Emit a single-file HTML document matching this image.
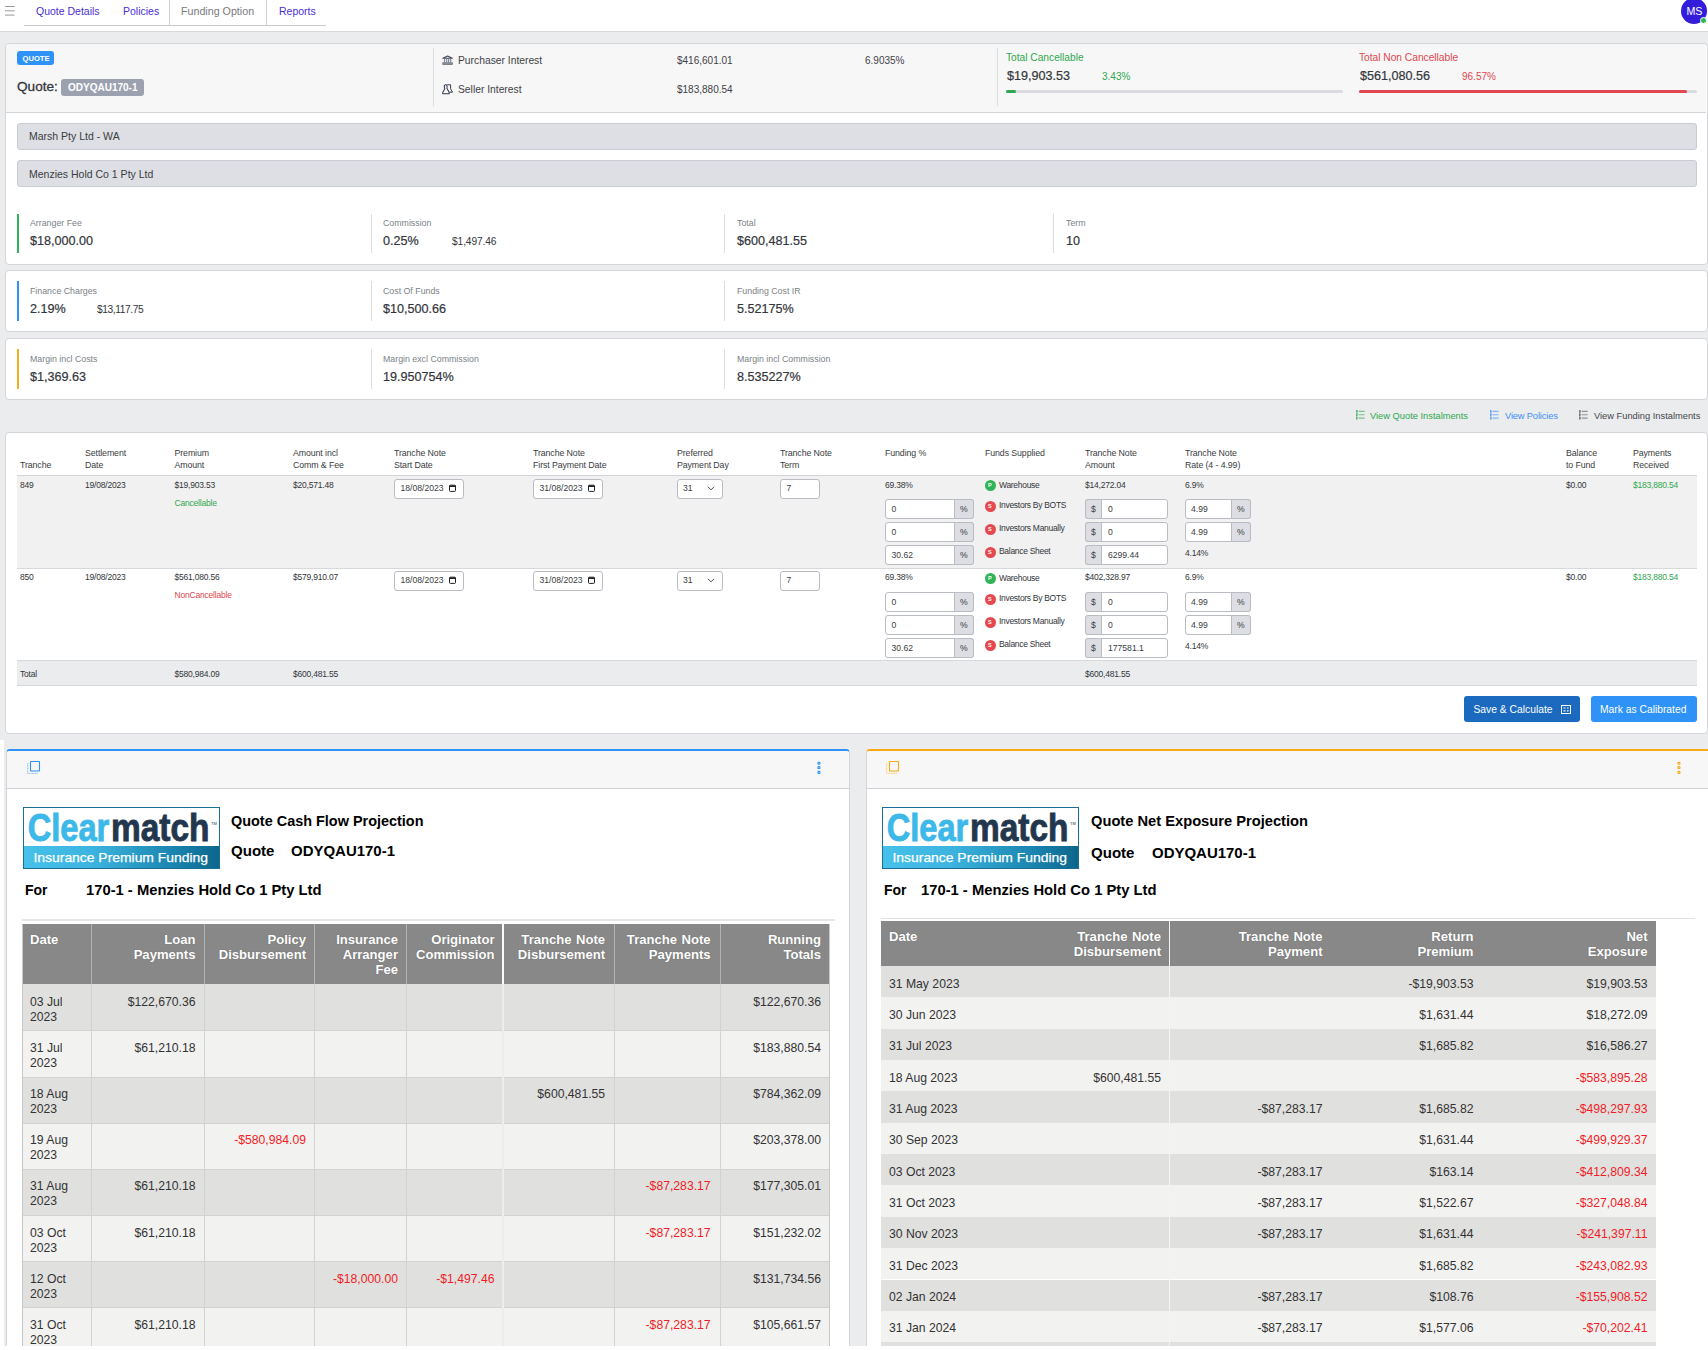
<!DOCTYPE html>
<html>
<head>
<meta charset="utf-8">
<title>Quote</title>
<style>
*{box-sizing:border-box;}
html,body{margin:0;padding:0;}
body{width:1708px;height:1350px;position:relative;overflow:hidden;background:#ebecee;font-family:"Liberation Sans",sans-serif;color:#3a3d42;font-size:10px;}
.abs{position:absolute;}
.t{position:absolute;white-space:pre;line-height:1;}
/* top nav */
#nav{left:0;top:0;width:1708px;height:32px;background:#fff;border-bottom:1px solid #d8d9dc;}
.navt{font-size:10.5px;top:6px;color:#4a2fd6;}
/* cards */
.card{position:absolute;left:5px;width:1703px;background:#fff;border:1px solid #d3d5d9;border-radius:4px;}
.lbl{font-size:8.8px;color:#7b7f87;}
.val{font-size:12.6px;color:#33363b;-webkit-text-stroke:0.2px #33363b;}
.val2{font-size:10.2px;color:#33363b;letter-spacing:-0.4px;}
.vdiv{position:absolute;width:1px;background:#dcdde0;}
.bar{position:absolute;left:17px;width:1680px;height:27px;background:#dddfe4;border:1px solid #c9ccd2;border-radius:3px;}
.lnk{font-size:9.3px;top:411.7px;}
.th{font-size:8.8px;color:#3a3d42;letter-spacing:-0.1px;}
.td{font-size:8.5px;color:#33363b;letter-spacing:-0.2px;}
.it{font-size:8.6px;color:#3a3d42;}
.inp{position:absolute;height:20px;background:#fff;border:1px solid #b9bcc2;border-radius:3px;}
.addon{position:absolute;height:20px;background:#dcdee3;border:1px solid #b9bcc2;}
.rb{font-size:12.2px;color:#333;}
.rh{font-size:13.1px;word-spacing:.8px;font-weight:700;color:#fff;text-shadow:0 0 1px rgba(60,60,60,.5);}
</style>
</head>
<body>

<!-- ===== top nav ===== -->
<div id="nav" class="abs">
  <svg class="abs" style="left:5px;top:6px" width="10" height="10" viewBox="0 0 10 10"><path d="M0 .5H9.6M0 4.8H9.6M0 9.1H9.6" stroke="#9a9a9a" stroke-width="1" fill="none"/></svg>
  <div class="abs" style="left:24px;top:25px;width:302px;height:1px;background:#c9c9cc"></div>
  <div class="abs" style="left:169px;top:0;width:1px;height:25px;background:#d0d0d3"></div>
  <div class="abs" style="left:266px;top:0;width:1px;height:25px;background:#d0d0d3"></div>
  <span class="t navt" style="left:36px">Quote Details</span>
  <span class="t navt" style="left:123px">Policies</span>
  <span class="t navt" style="left:181px;color:#77797e;font-size:10.7px">Funding Option</span>
  <span class="t navt" style="left:279px">Reports</span>
  <div class="abs" style="left:1681px;top:-2px;width:26px;height:26px;border-radius:13px;background:#331ddb"></div>
  <span class="t" style="left:1686.6px;top:5.9px;font-size:10.7px;color:#fff;letter-spacing:-.3px">MS</span>
  <div class="abs" style="left:1700px;top:17px;width:7px;height:7px;border-radius:4px;background:#2fb457;border:1px solid #fff"></div>
</div>

<!-- ===== card 1 ===== -->
<div class="card" style="top:43px;height:222px;"></div>
<div class="abs" style="left:6px;top:44px;width:1700px;height:69px;background:#f7f7f7;border-bottom:1px solid #d3d5d9;border-radius:3px 3px 0 0"></div>
<div class="abs" style="left:17px;top:51px;width:37px;height:14px;border-radius:3px;background:#2e92f7"></div>
<span class="t" style="left:22.5px;top:54.6px;font-size:7.6px;font-weight:700;color:#fff">QUOTE</span>
<span class="t" style="left:17px;top:79.8px;font-size:13.6px;color:#33363b;-webkit-text-stroke:.3px #33363b">Quote:</span>
<div class="abs" style="left:61px;top:79px;width:83px;height:17px;border-radius:3px;background:#9ba1ae"></div>
<span class="t" style="left:68px;top:82.5px;font-size:10px;font-weight:700;color:#fff">ODYQAU170-1</span>

<div class="vdiv" style="left:433px;top:48px;height:58px"></div>
<svg class="abs" style="left:441.6px;top:54.9px" width="11.2" height="10.3" viewBox="0 0 12 11"><path d="M.9 3.4L6 1 11.1 3.4Z" stroke="#3f4757" stroke-width="1.1" fill="none" stroke-linejoin="round"/><path d="M2.7 4.3V7.9M5 4.3V7.9M7.1 4.3V7.9M9.3 4.3V7.9" stroke="#858b98" stroke-width="1.3" fill="none"/><rect x=".8" y="8.3" width="10.4" height="2" fill="#8d93a0" stroke="#5d6473" stroke-width=".7"/></svg>
<span class="t" style="left:458px;top:56px;font-size:10.3px;color:#3f4247">Purchaser Interest</span>
<span class="t" style="left:677px;top:56px;font-size:10px;color:#3f4247">$416,601.01</span>
<span class="t" style="left:865px;top:56px;font-size:10px;color:#3f4247">6.9035%</span>
<svg class="abs" style="left:441.5px;top:84.2px" width="11.6" height="10.6" viewBox="0 0 12 11"><path d="M5.3 .8H8.9V4.9L10.9 8.5H7.6" stroke="#2e3646" stroke-width="1" fill="none" stroke-linejoin="round"/><path d="M2.3 2.2Q2.3 .9 3.8 .9 5.2 .9 5.2 2.2V4.6L7.4 8.6V10H.8V8.6L2.9 4.9Q2.3 3.6 2.3 2.2Z" stroke="#2e3646" stroke-width="1.05" fill="#f7f7f7" stroke-linejoin="round"/></svg>
<span class="t" style="left:458px;top:85px;font-size:10.3px;color:#3f4247">Seller Interest</span>
<span class="t" style="left:677px;top:85px;font-size:10px;color:#3f4247">$183,880.54</span>

<div class="vdiv" style="left:997px;top:48px;height:58px"></div>
<span class="t" style="left:1006px;top:53px;font-size:10.2px;color:#2fa84f">Total Cancellable</span>
<span class="t val" style="left:1007px;top:70px">$19,903.53</span>
<span class="t" style="left:1102px;top:72px;font-size:10px;color:#2fa84f">3.43%</span>
<div class="abs" style="left:1006px;top:90px;width:337px;height:3px;background:#dadbde;border-radius:2px"></div>
<div class="abs" style="left:1006px;top:90px;width:10px;height:3px;background:#2fa84f;border-radius:2px"></div>
<span class="t" style="left:1359px;top:53px;font-size:10.2px;color:#e0474f">Total Non Cancellable</span>
<span class="t val" style="left:1360px;top:70px">$561,080.56</span>
<span class="t" style="left:1462px;top:72px;font-size:10px;color:#e0474f">96.57%</span>
<div class="abs" style="left:1359px;top:90px;width:338px;height:3px;background:#dadbde;border-radius:2px"></div>
<div class="abs" style="left:1359px;top:90px;width:328px;height:3px;background:#e0474f;border-radius:2px"></div>

<div class="bar" style="top:123px"></div>
<span class="t" style="left:29px;top:131px;font-size:10.5px;color:#3a3d42">Marsh Pty Ltd - WA</span>
<div class="bar" style="top:160px"></div>
<span class="t" style="left:29px;top:169px;font-size:10.5px;color:#3a3d42">Menzies Hold Co 1 Pty Ltd</span>

<div class="abs" style="left:17px;top:214px;width:2px;height:39px;background:#2fb457"></div>
<span class="t lbl" style="left:30px;top:218.6px">Arranger Fee</span>
<span class="t val" style="left:30px;top:235px">$18,000.00</span>
<div class="vdiv" style="left:371px;top:214px;height:39px"></div>
<span class="t lbl" style="left:383px;top:218.6px">Commission</span>
<span class="t val" style="left:383px;top:235px">0.25%</span>
<span class="t val2" style="letter-spacing:-.1px;left:452px;top:236.8px">$1,497.46</span>
<div class="vdiv" style="left:724px;top:214px;height:39px"></div>
<span class="t lbl" style="left:737px;top:218.6px">Total</span>
<span class="t val" style="left:737px;top:235px">$600,481.55</span>
<div class="vdiv" style="left:1053px;top:214px;height:39px"></div>
<span class="t lbl" style="left:1066px;top:218.6px">Term</span>
<span class="t val" style="left:1066px;top:235px">10</span>

<!-- ===== card 2 ===== -->
<div class="card" style="top:270px;height:62px;"></div>
<div class="abs" style="left:17px;top:281px;width:2px;height:40px;background:#2e92f7"></div>
<span class="t lbl" style="left:30px;top:286.6px">Finance Charges</span>
<span class="t val" style="left:30px;top:303px">2.19%</span>
<span class="t val2" style="left:97px;top:304.8px">$13,117.75</span>
<div class="vdiv" style="left:371px;top:281px;height:40px"></div>
<span class="t lbl" style="left:383px;top:286.6px">Cost Of Funds</span>
<span class="t val" style="left:383px;top:303px">$10,500.66</span>
<div class="vdiv" style="left:724px;top:281px;height:40px"></div>
<span class="t lbl" style="left:737px;top:286.6px">Funding Cost IR</span>
<span class="t val" style="left:737px;top:303px">5.52175%</span>

<!-- ===== card 3 ===== -->
<div class="card" style="top:338px;height:62px;"></div>
<div class="abs" style="left:17px;top:349px;width:2px;height:40px;background:#f2b01e"></div>
<span class="t lbl" style="left:30px;top:354.6px">Margin incl Costs</span>
<span class="t val" style="left:30px;top:371px">$1,369.63</span>
<div class="vdiv" style="left:371px;top:349px;height:40px"></div>
<span class="t lbl" style="left:383px;top:354.6px">Margin excl Commission</span>
<span class="t val" style="left:383px;top:371px">19.950754%</span>
<div class="vdiv" style="left:724px;top:349px;height:40px"></div>
<span class="t lbl" style="left:737px;top:354.6px">Margin incl Commission</span>
<span class="t val" style="left:737px;top:371px">8.535227%</span>

<!-- ===== links row ===== -->
<svg class="abs" style="left:1355.5px;top:410.3px" width="9.5" height="9.5" viewBox="0 0 11 11"><path d="M3 1.6H10M3 5.5H10M3 9.4H10" stroke="#2fa84f" stroke-width="1.4" fill="none" opacity=".6"/><path d="M1 0V11" stroke="#2fa84f" stroke-width="1.5" stroke-dasharray="3.2 .7" fill="none"/></svg>
<span class="t lnk" style="left:1370px;color:#2fa84f">View Quote Instalments</span>
<svg class="abs" style="left:1489.5px;top:410.3px" width="9.5" height="9.5" viewBox="0 0 11 11"><path d="M3 1.6H10M3 5.5H10M3 9.4H10" stroke="#3f8ff5" stroke-width="1.4" fill="none" opacity=".6"/><path d="M1 0V11" stroke="#3f8ff5" stroke-width="1.5" stroke-dasharray="3.2 .7" fill="none"/></svg>
<span class="t lnk" style="left:1505px;color:#3f8ff5;letter-spacing:-.15px">View Policies</span>
<svg class="abs" style="left:1578.5px;top:410.3px" width="9.5" height="9.5" viewBox="0 0 11 11"><path d="M3 1.6H10M3 5.5H10M3 9.4H10" stroke="#55585e" stroke-width="1.4" fill="none" opacity=".6"/><path d="M1 0V11" stroke="#55585e" stroke-width="1.5" stroke-dasharray="3.2 .7" fill="none"/></svg>
<span class="t lnk" style="left:1594px;color:#44474c">View Funding Instalments</span>

<!-- ===== card 4 : tranche table ===== -->
<div class="card" style="top:432px;height:302px;"></div>
<div class="abs" style="left:17px;top:475px;width:1680px;height:1px;background:#d2d4d8"></div>
<div class="abs" style="left:17px;top:476px;width:1680px;height:92px;background:#f1f1f1"></div>
<div class="abs" style="left:17px;top:568px;width:1680px;height:1px;background:#d6d8dc"></div>
<div class="abs" style="left:17px;top:660px;width:1680px;height:1px;background:#d6d8dc"></div>
<div class="abs" style="left:17px;top:661px;width:1680px;height:24px;background:#ebecee"></div>
<div class="abs" style="left:17px;top:685px;width:1680px;height:1px;background:#d6d8dc"></div>

<!-- header -->
<span class="t th" style="left:20px;top:460.7px">Tranche</span>
<span class="t th" style="left:85px;top:448.5px">Settlement</span><span class="t th" style="left:85px;top:460.7px">Date</span>
<span class="t th" style="left:174.5px;top:448.5px">Premium</span><span class="t th" style="left:174.5px;top:460.7px">Amount</span>
<span class="t th" style="left:293px;top:448.5px">Amount incl</span><span class="t th" style="left:293px;top:460.7px">Comm &amp; Fee</span>
<span class="t th" style="left:394px;top:448.5px">Tranche Note</span><span class="t th" style="left:394px;top:460.7px">Start Date</span>
<span class="t th" style="left:533px;top:448.5px">Tranche Note</span><span class="t th" style="left:533px;top:460.7px">First Payment Date</span>
<span class="t th" style="left:677px;top:448.5px">Preferred</span><span class="t th" style="left:677px;top:460.7px">Payment Day</span>
<span class="t th" style="left:780px;top:448.5px">Tranche Note</span><span class="t th" style="left:780px;top:460.7px">Term</span>
<span class="t th" style="left:885px;top:448.5px">Funding %</span>
<span class="t th" style="left:985px;top:448.5px">Funds Supplied</span>
<span class="t th" style="left:1085px;top:448.5px">Tranche Note</span><span class="t th" style="left:1085px;top:460.7px">Amount</span>
<span class="t th" style="left:1185px;top:448.5px">Tranche Note</span><span class="t th" style="left:1185px;top:460.7px">Rate (4 - 4.99)</span>
<span class="t th" style="left:1566px;top:448.5px">Balance</span><span class="t th" style="left:1566px;top:460.7px">to Fund</span>
<span class="t th" style="left:1633px;top:448.5px">Payments</span><span class="t th" style="left:1633px;top:460.7px">Received</span>

<!-- row 1 -->
<span class="t td" style="left:20px;top:481px">849</span>
<span class="t td" style="left:85px;top:481px">19/08/2023</span>
<span class="t td" style="left:174.5px;top:481px">$19,903.53</span>
<span class="t td" style="left:174.5px;top:498.5px;color:#2fa84f">Cancellable</span>
<span class="t td" style="left:293px;top:481px">$20,571.48</span>
<div class="inp" style="left:394px;top:479px;width:70px"></div>
<span class="t it" style="left:400.5px;top:483.6px">18/08/2023</span>
<svg class="abs" style="left:449px;top:483.6px" width="7" height="8" viewBox="0 0 7 8"><rect x=".5" y="1.2" width="6" height="6.2" rx=".8" fill="none" stroke="#222" stroke-width="1"/><path d="M.5 2.2H6.5" stroke="#222" stroke-width="1.6"/></svg>
<div class="inp" style="left:533px;top:479px;width:70px"></div>
<span class="t it" style="left:539.5px;top:483.6px">31/08/2023</span>
<svg class="abs" style="left:588px;top:483.6px" width="7" height="8" viewBox="0 0 7 8"><rect x=".5" y="1.2" width="6" height="6.2" rx=".8" fill="none" stroke="#222" stroke-width="1"/><path d="M.5 2.2H6.5" stroke="#222" stroke-width="1.6"/></svg>
<div class="inp" style="left:677px;top:479px;width:46px"></div>
<span class="t it" style="left:683px;top:483.6px">31</span>
<svg class="abs" style="left:706.5px;top:486.2px" width="8" height="5" viewBox="0 0 8 5"><path d="M.8 .8L4 3.8 7.2 .8" fill="none" stroke="#555" stroke-width="1"/></svg>
<div class="inp" style="left:780px;top:479px;width:40px"></div>
<span class="t it" style="left:786.5px;top:483.6px">7</span>
<span class="t td" style="left:885px;top:481px">69.38%</span>
<div class="inp" style="left:885px;top:499px;width:89px"></div>
<div class="addon" style="left:954px;top:499px;width:20px;border-radius:0 3px 3px 0"></div>
<span class="t it" style="left:891.5px;top:504.5px">0</span>
<span class="t it" style="left:960px;top:504.5px">%</span>
<div class="inp" style="left:885px;top:522px;width:89px"></div>
<div class="addon" style="left:954px;top:522px;width:20px;border-radius:0 3px 3px 0"></div>
<span class="t it" style="left:891.5px;top:527.5px">0</span>
<span class="t it" style="left:960px;top:527.5px">%</span>
<div class="inp" style="left:885px;top:545px;width:89px"></div>
<div class="addon" style="left:954px;top:545px;width:20px;border-radius:0 3px 3px 0"></div>
<span class="t it" style="left:891.5px;top:550.5px">30.62</span>
<span class="t it" style="left:960px;top:550.5px">%</span>
<div class="abs" style="left:984.5px;top:479.5px;width:11px;height:11px;border-radius:6px;background:#2fb457"></div>
<span class="t" style="left:988px;top:482.5px;font-size:5.5px;font-weight:700;color:#fff">P</span>
<span class="t td" style="letter-spacing:-.3px;left:999px;top:480.8px">Warehouse</span>
<div class="abs" style="left:984.5px;top:500.5px;width:11px;height:11px;border-radius:6px;background:#e5484d"></div>
<span class="t" style="left:988px;top:503.5px;font-size:5.5px;font-weight:700;color:#fff">S</span>
<span class="t td" style="letter-spacing:-.3px;left:999px;top:501px">Investors By BOTS</span>
<div class="abs" style="left:984.5px;top:523.5px;width:11px;height:11px;border-radius:6px;background:#e5484d"></div>
<span class="t" style="left:988px;top:526.5px;font-size:5.5px;font-weight:700;color:#fff">S</span>
<span class="t td" style="letter-spacing:-.3px;left:999px;top:524px">Investors Manually</span>
<div class="abs" style="left:984.5px;top:546.5px;width:11px;height:11px;border-radius:6px;background:#e5484d"></div>
<span class="t" style="left:988px;top:549.5px;font-size:5.5px;font-weight:700;color:#fff">S</span>
<span class="t td" style="letter-spacing:-.3px;left:999px;top:547px">Balance Sheet</span>
<span class="t td" style="left:1085px;top:481px">$14,272.04</span>
<div class="inp" style="left:1085px;top:499px;width:83px"></div>
<div class="addon" style="left:1085px;top:499px;width:17px;border-radius:3px 0 0 3px"></div>
<span class="t it" style="left:1091px;top:504.5px">$</span>
<span class="t it" style="left:1108px;top:504.5px">0</span>
<div class="inp" style="left:1085px;top:522px;width:83px"></div>
<div class="addon" style="left:1085px;top:522px;width:17px;border-radius:3px 0 0 3px"></div>
<span class="t it" style="left:1091px;top:527.5px">$</span>
<span class="t it" style="left:1108px;top:527.5px">0</span>
<div class="inp" style="left:1085px;top:545px;width:83px"></div>
<div class="addon" style="left:1085px;top:545px;width:17px;border-radius:3px 0 0 3px"></div>
<span class="t it" style="left:1091px;top:550.5px">$</span>
<span class="t it" style="left:1108px;top:550.5px">6299.44</span>
<span class="t td" style="left:1185px;top:481px">6.9%</span>
<div class="inp" style="left:1185px;top:499px;width:66px"></div>
<div class="addon" style="left:1231px;top:499px;width:20px;border-radius:0 3px 3px 0"></div>
<span class="t it" style="left:1191px;top:504.5px">4.99</span>
<span class="t it" style="left:1237px;top:504.5px">%</span>
<div class="inp" style="left:1185px;top:522px;width:66px"></div>
<div class="addon" style="left:1231px;top:522px;width:20px;border-radius:0 3px 3px 0"></div>
<span class="t it" style="left:1191px;top:527.5px">4.99</span>
<span class="t it" style="left:1237px;top:527.5px">%</span>
<span class="t td" style="left:1185px;top:548.5px">4.14%</span>
<span class="t td" style="left:1566px;top:481px">$0.00</span>
<span class="t td" style="left:1633px;top:481px;color:#2fa84f">$183,880.54</span>
<!-- row 2 -->
<span class="t td" style="left:20px;top:572.8px">850</span>
<span class="t td" style="left:85px;top:572.8px">19/08/2023</span>
<span class="t td" style="left:174.5px;top:572.8px">$561,080.56</span>
<span class="t td" style="left:174.5px;top:590.8px;color:#e0474f">NonCancellable</span>
<span class="t td" style="left:293px;top:572.8px">$579,910.07</span>
<div class="inp" style="left:394px;top:571px;width:70px"></div>
<span class="t it" style="left:400.5px;top:575.6px">18/08/2023</span>
<svg class="abs" style="left:449px;top:575.6px" width="7" height="8" viewBox="0 0 7 8"><rect x=".5" y="1.2" width="6" height="6.2" rx=".8" fill="none" stroke="#222" stroke-width="1"/><path d="M.5 2.2H6.5" stroke="#222" stroke-width="1.6"/></svg>
<div class="inp" style="left:533px;top:571px;width:70px"></div>
<span class="t it" style="left:539.5px;top:575.6px">31/08/2023</span>
<svg class="abs" style="left:588px;top:575.6px" width="7" height="8" viewBox="0 0 7 8"><rect x=".5" y="1.2" width="6" height="6.2" rx=".8" fill="none" stroke="#222" stroke-width="1"/><path d="M.5 2.2H6.5" stroke="#222" stroke-width="1.6"/></svg>
<div class="inp" style="left:677px;top:571px;width:46px"></div>
<span class="t it" style="left:683px;top:575.6px">31</span>
<svg class="abs" style="left:706.5px;top:578.2px" width="8" height="5" viewBox="0 0 8 5"><path d="M.8 .8L4 3.8 7.2 .8" fill="none" stroke="#555" stroke-width="1"/></svg>
<div class="inp" style="left:780px;top:571px;width:40px"></div>
<span class="t it" style="left:786.5px;top:575.6px">7</span>
<span class="t td" style="left:885px;top:572.8px">69.38%</span>
<div class="inp" style="left:885px;top:592px;width:89px"></div>
<div class="addon" style="left:954px;top:592px;width:20px;border-radius:0 3px 3px 0"></div>
<span class="t it" style="left:891.5px;top:597.5px">0</span>
<span class="t it" style="left:960px;top:597.5px">%</span>
<div class="inp" style="left:885px;top:615px;width:89px"></div>
<div class="addon" style="left:954px;top:615px;width:20px;border-radius:0 3px 3px 0"></div>
<span class="t it" style="left:891.5px;top:620.5px">0</span>
<span class="t it" style="left:960px;top:620.5px">%</span>
<div class="inp" style="left:885px;top:638px;width:89px"></div>
<div class="addon" style="left:954px;top:638px;width:20px;border-radius:0 3px 3px 0"></div>
<span class="t it" style="left:891.5px;top:643.5px">30.62</span>
<span class="t it" style="left:960px;top:643.5px">%</span>
<div class="abs" style="left:984.5px;top:572.5px;width:11px;height:11px;border-radius:6px;background:#2fb457"></div>
<span class="t" style="left:988px;top:575.5px;font-size:5.5px;font-weight:700;color:#fff">P</span>
<span class="t td" style="letter-spacing:-.3px;left:999px;top:573.8px">Warehouse</span>
<div class="abs" style="left:984.5px;top:593.5px;width:11px;height:11px;border-radius:6px;background:#e5484d"></div>
<span class="t" style="left:988px;top:596.5px;font-size:5.5px;font-weight:700;color:#fff">S</span>
<span class="t td" style="letter-spacing:-.3px;left:999px;top:594px">Investors By BOTS</span>
<div class="abs" style="left:984.5px;top:616.5px;width:11px;height:11px;border-radius:6px;background:#e5484d"></div>
<span class="t" style="left:988px;top:619.5px;font-size:5.5px;font-weight:700;color:#fff">S</span>
<span class="t td" style="letter-spacing:-.3px;left:999px;top:617px">Investors Manually</span>
<div class="abs" style="left:984.5px;top:639.5px;width:11px;height:11px;border-radius:6px;background:#e5484d"></div>
<span class="t" style="left:988px;top:642.5px;font-size:5.5px;font-weight:700;color:#fff">S</span>
<span class="t td" style="letter-spacing:-.3px;left:999px;top:640px">Balance Sheet</span>
<span class="t td" style="left:1085px;top:572.8px">$402,328.97</span>
<div class="inp" style="left:1085px;top:592px;width:83px"></div>
<div class="addon" style="left:1085px;top:592px;width:17px;border-radius:3px 0 0 3px"></div>
<span class="t it" style="left:1091px;top:597.5px">$</span>
<span class="t it" style="left:1108px;top:597.5px">0</span>
<div class="inp" style="left:1085px;top:615px;width:83px"></div>
<div class="addon" style="left:1085px;top:615px;width:17px;border-radius:3px 0 0 3px"></div>
<span class="t it" style="left:1091px;top:620.5px">$</span>
<span class="t it" style="left:1108px;top:620.5px">0</span>
<div class="inp" style="left:1085px;top:638px;width:83px"></div>
<div class="addon" style="left:1085px;top:638px;width:17px;border-radius:3px 0 0 3px"></div>
<span class="t it" style="left:1091px;top:643.5px">$</span>
<span class="t it" style="left:1108px;top:643.5px">177581.1</span>
<span class="t td" style="left:1185px;top:572.8px">6.9%</span>
<div class="inp" style="left:1185px;top:592px;width:66px"></div>
<div class="addon" style="left:1231px;top:592px;width:20px;border-radius:0 3px 3px 0"></div>
<span class="t it" style="left:1191px;top:597.5px">4.99</span>
<span class="t it" style="left:1237px;top:597.5px">%</span>
<div class="inp" style="left:1185px;top:615px;width:66px"></div>
<div class="addon" style="left:1231px;top:615px;width:20px;border-radius:0 3px 3px 0"></div>
<span class="t it" style="left:1191px;top:620.5px">4.99</span>
<span class="t it" style="left:1237px;top:620.5px">%</span>
<span class="t td" style="left:1185px;top:641.5px">4.14%</span>
<span class="t td" style="left:1566px;top:572.8px">$0.00</span>
<span class="t td" style="left:1633px;top:572.8px;color:#2fa84f">$183,880.54</span>

<!-- total -->
<span class="t td" style="left:20px;top:669.5px">Total</span>
<span class="t td" style="left:174.5px;top:669.5px">$580,984.09</span>
<span class="t td" style="left:293px;top:669.5px">$600,481.55</span>
<span class="t td" style="left:1085px;top:670px">$600,481.55</span>

<!-- buttons -->
<div class="abs" style="left:1464px;top:696px;width:116px;height:26px;border-radius:3px;background:#1b6ac0"></div>
<span class="t" style="left:1473.5px;top:704.7px;font-size:10.3px;color:#fff">Save &amp; Calculate</span>
<svg class="abs" style="left:1561px;top:704.5px" width="10" height="9" viewBox="0 0 10 9"><rect x=".5" y=".5" width="9" height="8" fill="none" stroke="#fff" stroke-width="1"/><path d="M2.5 3h2M2.5 5.8h2M6 3h1.6M6 5.8h1.6" stroke="#fff" stroke-width="1.2"/></svg>
<div class="abs" style="left:1591px;top:696px;width:106px;height:26px;border-radius:3px;background:#2e92f7"></div>
<span class="t" style="left:1600px;top:704.7px;font-size:10.3px;color:#fff">Mark as Calibrated</span>

<!--PANELS_START-->
<!-- ===== bottom panels ===== -->
<div class="abs" style="left:0;top:740px;width:4px;height:610px;background:#fff"></div>
<div class="abs" style="left:6px;top:749px;width:844px;height:597px;background:#fff;border:1px solid #d3d5d9;border-top:2px solid #2e92f7;border-bottom:0;border-radius:4px 4px 0 0"></div>
<div class="abs" style="left:7px;top:751px;width:842px;height:38px;background:#f7f7f7;border-bottom:1px solid #d0d2d7;border-radius:3px 3px 0 0"></div>
<svg class="abs" style="left:26px;top:760px" width="15" height="15" viewBox="0 0 15 15"><rect x="4.5" y="1.55" width="9" height="9.4" rx=".5" fill="none" stroke="#2e92f7" stroke-width="1.1"/><path d="M1.7 3.2V13.4H12" fill="none" stroke="#2e92f7" stroke-width=".9" stroke-dasharray="1.1 .5" opacity=".6"/></svg>
<div class="abs" style="left:866px;top:749px;width:844px;height:597px;background:#fff;border:1px solid #d3d5d9;border-top:2px solid #f7aa15;border-bottom:0;border-radius:4px 4px 0 0"></div>
<div class="abs" style="left:867px;top:751px;width:842px;height:38px;background:#f7f7f7;border-bottom:1px solid #d0d2d7;border-radius:3px 3px 0 0"></div>
<svg class="abs" style="left:885px;top:760px" width="15" height="15" viewBox="0 0 15 15"><rect x="4.5" y="1.55" width="9" height="9.4" rx=".5" fill="none" stroke="#f7aa15" stroke-width="1.1"/><path d="M1.7 3.2V13.4H12" fill="none" stroke="#f7aa15" stroke-width=".9" stroke-dasharray="1.1 .5" opacity=".6"/></svg>
<svg class="abs" style="left:816.0px;top:760px" width="6" height="15" viewBox="0 0 6 15"><g fill="#2e92f7"><rect x="1.4" y="1.7" width="3.1" height="3.1" rx="1.3"/><rect x="1.4" y="6" width="3.1" height="3.1" rx="1.2"/><rect x="1.4" y="10.8" width="3.1" height="3.1" rx="1.2"/></g><g fill="#f7f7f7" opacity=".75"><circle cx="3" cy="3.3" r=".55"/><circle cx="3" cy="7.6" r=".55"/><circle cx="3" cy="12.4" r=".55"/></g></svg>
<svg class="abs" style="left:1676.0px;top:760px" width="6" height="15" viewBox="0 0 6 15"><g fill="#f7aa15"><rect x="1.4" y="1.7" width="3.1" height="3.1" rx="1.3"/><rect x="1.4" y="6" width="3.1" height="3.1" rx="1.2"/><rect x="1.4" y="10.8" width="3.1" height="3.1" rx="1.2"/></g><g fill="#f7f7f7" opacity=".75"><circle cx="3" cy="3.3" r=".55"/><circle cx="3" cy="7.6" r=".55"/><circle cx="3" cy="12.4" r=".55"/></g></svg>
<div class="abs" style="left:23px;top:807px;width:197px;height:62px;background:#fff;border:1px solid #1b6f96"></div>
<div class="abs" style="left:24px;top:846px;width:195px;height:22px;background:linear-gradient(90deg,#45c1ea 0%,#3cb4df 35%,#1b87b2 75%,#0c668c 100%)"></div>
<svg class="abs" style="left:23px;top:807px" width="198" height="63" viewBox="0 0 198 63"><text x="4.8" y="34" font-family="Liberation Sans" font-weight="700" font-size="38.3" textLength="81.5" lengthAdjust="spacingAndGlyphs" fill="#3cb8e9" stroke="#3cb8e9" stroke-width=".9">Clear</text><text x="88" y="34" font-family="Liberation Sans" font-weight="700" font-size="38.3" textLength="98.5" lengthAdjust="spacingAndGlyphs" fill="#22374e" stroke="#22374e" stroke-width=".9">match</text><text x="10.5" y="55" font-family="Liberation Sans" font-size="13.2" textLength="174.5" lengthAdjust="spacingAndGlyphs" fill="#fff" stroke="#fff" stroke-width=".25">Insurance Premium Funding</text><text x="188" y="18" font-family="Liberation Sans" font-size="4" fill="#22374e">TM</text></svg>
<div class="abs" style="left:882px;top:807px;width:197px;height:62px;background:#fff;border:1px solid #1b6f96"></div>
<div class="abs" style="left:883px;top:846px;width:195px;height:22px;background:linear-gradient(90deg,#45c1ea 0%,#3cb4df 35%,#1b87b2 75%,#0c668c 100%)"></div>
<svg class="abs" style="left:882px;top:807px" width="198" height="63" viewBox="0 0 198 63"><text x="4.8" y="34" font-family="Liberation Sans" font-weight="700" font-size="38.3" textLength="81.5" lengthAdjust="spacingAndGlyphs" fill="#3cb8e9" stroke="#3cb8e9" stroke-width=".9">Clear</text><text x="88" y="34" font-family="Liberation Sans" font-weight="700" font-size="38.3" textLength="98.5" lengthAdjust="spacingAndGlyphs" fill="#22374e" stroke="#22374e" stroke-width=".9">match</text><text x="10.5" y="55" font-family="Liberation Sans" font-size="13.2" textLength="174.5" lengthAdjust="spacingAndGlyphs" fill="#fff" stroke="#fff" stroke-width=".25">Insurance Premium Funding</text><text x="188" y="18" font-family="Liberation Sans" font-size="4" fill="#22374e">TM</text></svg>
<span class="t" style="left:230.5px;top:813.98px;font-size:14.5px;font-weight:700;color:#000;transform:scaleX(0.9956);transform-origin:0 0;">Quote Cash Flow Projection</span>
<span class="t" style="left:230.5px;top:844.48px;font-size:14.5px;font-weight:700;color:#000;transform:scaleX(1.0384);transform-origin:0 0;">Quote</span>
<span class="t" style="left:291px;top:844.48px;font-size:14.5px;font-weight:700;color:#000;transform:scaleX(1.0324);transform-origin:0 0;">ODYQAU170-1</span>
<span class="t" style="left:25px;top:883.23px;font-size:14.5px;font-weight:700;color:#000;transform:scaleX(0.9632);transform-origin:0 0;">For</span>
<span class="t" style="left:85.5px;top:883.23px;font-size:14.5px;font-weight:700;color:#000;transform:scaleX(1.0184);transform-origin:0 0;">170-1 - Menzies Hold Co 1 Pty Ltd</span>
<span class="t" style="left:1091px;top:813.98px;font-size:14.5px;font-weight:700;color:#000;transform:scaleX(1.0125);transform-origin:0 0;">Quote Net Exposure Projection</span>
<span class="t" style="left:1091px;top:846.48px;font-size:14.5px;font-weight:700;color:#000;transform:scaleX(1.0384);transform-origin:0 0;">Quote</span>
<span class="t" style="left:1151.5px;top:846.48px;font-size:14.5px;font-weight:700;color:#000;transform:scaleX(1.0324);transform-origin:0 0;">ODYQAU170-1</span>
<span class="t" style="left:884px;top:883.23px;font-size:14.5px;font-weight:700;color:#000;transform:scaleX(0.9632);transform-origin:0 0;">For</span>
<span class="t" style="left:921px;top:883.23px;font-size:14.5px;font-weight:700;color:#000;transform:scaleX(1.0184);transform-origin:0 0;">170-1 - Menzies Hold Co 1 Pty Ltd</span>
<div class="abs" style="left:22px;top:919px;width:813px;height:2px;background:#e6e6e6"></div>
<div class="abs" style="left:881px;top:917.5px;width:814px;height:1.5px;background:#e2e2e2"></div>
<div class="abs" style="left:22.75px;top:924px;width:806.75px;height:60px;background:#888"></div>
<div class="abs" style="left:22.75px;top:984.0px;width:806.75px;height:46.5px;background:#e0e0df"></div>
<span class="t rb" style="left:30px;top:995.8px">03 Jul</span>
<span class="t rb" style="left:30px;top:1010.6px">2023</span>
<span class="t rb" style="right:1512.5px;top:995.8px;color:#333">$122,670.36</span>
<span class="t rb" style="right:887px;top:995.8px;color:#333">$122,670.36</span>
<div class="abs" style="left:22.75px;top:1030.5px;width:806.75px;height:46.5px;background:#f2f2f1"></div>
<div class="abs" style="left:22.75px;top:1030.0px;width:806.75px;height:1px;background:#d2d2d2"></div>
<span class="t rb" style="left:30px;top:1041.8px">31 Jul</span>
<span class="t rb" style="left:30px;top:1056.6px">2023</span>
<span class="t rb" style="right:1512.5px;top:1041.8px;color:#333">$61,210.18</span>
<span class="t rb" style="right:887px;top:1041.8px;color:#333">$183,880.54</span>
<div class="abs" style="left:22.75px;top:1077.0px;width:806.75px;height:46.0px;background:#e0e0df"></div>
<div class="abs" style="left:22.75px;top:1076.5px;width:806.75px;height:1px;background:#d2d2d2"></div>
<span class="t rb" style="left:30px;top:1088.3px">18 Aug</span>
<span class="t rb" style="left:30px;top:1103.1px">2023</span>
<span class="t rb" style="right:1102.9px;top:1088.3px;color:#333">$600,481.55</span>
<span class="t rb" style="right:887px;top:1088.3px;color:#333">$784,362.09</span>
<div class="abs" style="left:22.75px;top:1123.0px;width:806.75px;height:46.0px;background:#f2f2f1"></div>
<div class="abs" style="left:22.75px;top:1122.5px;width:806.75px;height:1px;background:#d2d2d2"></div>
<span class="t rb" style="left:30px;top:1134.3px">19 Aug</span>
<span class="t rb" style="left:30px;top:1149.1px">2023</span>
<span class="t rb" style="right:1402px;top:1134.3px;color:#f11d26">-$580,984.09</span>
<span class="t rb" style="right:887px;top:1134.3px;color:#333">$203,378.00</span>
<div class="abs" style="left:22.75px;top:1169.0px;width:806.75px;height:46.5px;background:#e0e0df"></div>
<div class="abs" style="left:22.75px;top:1168.5px;width:806.75px;height:1px;background:#d2d2d2"></div>
<span class="t rb" style="left:30px;top:1180.3px">31 Aug</span>
<span class="t rb" style="left:30px;top:1195.1px">2023</span>
<span class="t rb" style="right:1512.5px;top:1180.3px;color:#333">$61,210.18</span>
<span class="t rb" style="right:997.4px;top:1180.3px;color:#f11d26">-$87,283.17</span>
<span class="t rb" style="right:887px;top:1180.3px;color:#333">$177,305.01</span>
<div class="abs" style="left:22.75px;top:1215.5px;width:806.75px;height:46.0px;background:#f2f2f1"></div>
<div class="abs" style="left:22.75px;top:1215.0px;width:806.75px;height:1px;background:#d2d2d2"></div>
<span class="t rb" style="left:30px;top:1226.8px">03 Oct</span>
<span class="t rb" style="left:30px;top:1241.6px">2023</span>
<span class="t rb" style="right:1512.5px;top:1226.8px;color:#333">$61,210.18</span>
<span class="t rb" style="right:997.4px;top:1226.8px;color:#f11d26">-$87,283.17</span>
<span class="t rb" style="right:887px;top:1226.8px;color:#333">$151,232.02</span>
<div class="abs" style="left:22.75px;top:1261.5px;width:806.75px;height:46.0px;background:#e0e0df"></div>
<div class="abs" style="left:22.75px;top:1261.0px;width:806.75px;height:1px;background:#d2d2d2"></div>
<span class="t rb" style="left:30px;top:1272.8px">12 Oct</span>
<span class="t rb" style="left:30px;top:1287.6px">2023</span>
<span class="t rb" style="right:1310px;top:1272.8px;color:#f11d26">-$18,000.00</span>
<span class="t rb" style="right:1213.5px;top:1272.8px;color:#f11d26">-$1,497.46</span>
<span class="t rb" style="right:887px;top:1272.8px;color:#333">$131,734.56</span>
<div class="abs" style="left:22.75px;top:1307.5px;width:806.75px;height:38.5px;background:#f2f2f1"></div>
<div class="abs" style="left:22.75px;top:1307.0px;width:806.75px;height:1px;background:#d2d2d2"></div>
<span class="t rb" style="left:30px;top:1318.8px">31 Oct</span>
<span class="t rb" style="left:30px;top:1333.6px">2023</span>
<span class="t rb" style="right:1512.5px;top:1318.8px;color:#333">$61,210.18</span>
<span class="t rb" style="right:997.4px;top:1318.8px;color:#f11d26">-$87,283.17</span>
<span class="t rb" style="right:887px;top:1318.8px;color:#333">$105,661.57</span>
<div class="abs" style="left:91.0px;top:924px;width:1px;height:60px;background:#b4b4b4"></div>
<div class="abs" style="left:91.0px;top:984px;width:1px;height:362px;background:#d2d2d2"></div>
<div class="abs" style="left:203.5px;top:924px;width:1px;height:60px;background:#b4b4b4"></div>
<div class="abs" style="left:203.5px;top:984px;width:1px;height:362px;background:#d2d2d2"></div>
<div class="abs" style="left:314.0px;top:924px;width:1px;height:60px;background:#b4b4b4"></div>
<div class="abs" style="left:314.0px;top:984px;width:1px;height:362px;background:#d2d2d2"></div>
<div class="abs" style="left:406.0px;top:924px;width:1px;height:60px;background:#b4b4b4"></div>
<div class="abs" style="left:406.0px;top:984px;width:1px;height:362px;background:#d2d2d2"></div>
<div class="abs" style="left:502px;top:924px;width:1.5px;height:60px;background:#fbfbfb"></div>
<div class="abs" style="left:502px;top:984px;width:1.5px;height:362px;background:#ededed"></div>
<div class="abs" style="left:614.0px;top:924px;width:1px;height:60px;background:#b4b4b4"></div>
<div class="abs" style="left:614.0px;top:984px;width:1px;height:362px;background:#d2d2d2"></div>
<div class="abs" style="left:719.5px;top:924px;width:1px;height:60px;background:#b4b4b4"></div>
<div class="abs" style="left:719.5px;top:984px;width:1px;height:362px;background:#d2d2d2"></div>
<div class="abs" style="left:22.25px;top:924px;width:1px;height:422px;background:#c8c8c8"></div>
<div class="abs" style="left:829.0px;top:924px;width:1px;height:422px;background:#c8c8c8"></div>
<span class="t rh" style="left:30px;top:932.7px">Date</span>
<span class="t rh" style="right:1512.5px;top:932.7px">Loan</span>
<span class="t rh" style="right:1512.5px;top:947.7px">Payments</span>
<span class="t rh" style="right:1402px;top:932.7px">Policy</span>
<span class="t rh" style="right:1402px;top:947.7px">Disbursement</span>
<span class="t rh" style="right:1310px;top:932.7px">Insurance</span>
<span class="t rh" style="right:1310px;top:947.7px">Arranger</span>
<span class="t rh" style="right:1310px;top:962.7px">Fee</span>
<span class="t rh" style="right:1213.5px;top:932.7px">Originator</span>
<span class="t rh" style="right:1213.5px;top:947.7px">Commission</span>
<span class="t rh" style="right:1102.9px;top:932.7px">Tranche Note</span>
<span class="t rh" style="right:1102.9px;top:947.7px">Disbursement</span>
<span class="t rh" style="right:997.4px;top:932.7px">Tranche Note</span>
<span class="t rh" style="right:997.4px;top:947.7px">Payments</span>
<span class="t rh" style="right:887px;top:932.7px">Running</span>
<span class="t rh" style="right:887px;top:947.7px">Totals</span>
<div class="abs" style="left:881px;top:920.5px;width:775.2px;height:45.5px;background:#888"></div>
<div class="abs" style="left:881px;top:966.00px;width:775.2px;height:31.35px;background:#e0e0df"></div>
<span class="t rb" style="left:889px;top:977.6px">31 May 2023</span>
<span class="t rb" style="right:234.5px;top:977.6px;color:#333">-$19,903.53</span>
<span class="t rb" style="right:60.5px;top:977.6px;color:#333">$19,903.53</span>
<div class="abs" style="left:881px;top:997.35px;width:775.2px;height:31.35px;background:#f2f2f1"></div>
<span class="t rb" style="left:889px;top:1009.0px">30 Jun 2023</span>
<span class="t rb" style="right:234.5px;top:1009.0px;color:#333">$1,631.44</span>
<span class="t rb" style="right:60.5px;top:1009.0px;color:#333">$18,272.09</span>
<div class="abs" style="left:881px;top:1028.70px;width:775.2px;height:31.35px;background:#e0e0df"></div>
<span class="t rb" style="left:889px;top:1040.3px">31 Jul 2023</span>
<span class="t rb" style="right:234.5px;top:1040.3px;color:#333">$1,685.82</span>
<span class="t rb" style="right:60.5px;top:1040.3px;color:#333">$16,586.27</span>
<div class="abs" style="left:881px;top:1060.05px;width:775.2px;height:31.35px;background:#f2f2f1"></div>
<span class="t rb" style="left:889px;top:1071.6px">18 Aug 2023</span>
<span class="t rb" style="right:547px;top:1071.6px;color:#333">$600,481.55</span>
<span class="t rb" style="right:60.5px;top:1071.6px;color:#f11d26">-$583,895.28</span>
<div class="abs" style="left:881px;top:1091.40px;width:775.2px;height:31.35px;background:#e0e0df"></div>
<span class="t rb" style="left:889px;top:1103.0px">31 Aug 2023</span>
<span class="t rb" style="right:385.5px;top:1103.0px;color:#333">-$87,283.17</span>
<span class="t rb" style="right:234.5px;top:1103.0px;color:#333">$1,685.82</span>
<span class="t rb" style="right:60.5px;top:1103.0px;color:#f11d26">-$498,297.93</span>
<div class="abs" style="left:881px;top:1122.75px;width:775.2px;height:31.35px;background:#f2f2f1"></div>
<span class="t rb" style="left:889px;top:1134.3px">30 Sep 2023</span>
<span class="t rb" style="right:234.5px;top:1134.3px;color:#333">$1,631.44</span>
<span class="t rb" style="right:60.5px;top:1134.3px;color:#f11d26">-$499,929.37</span>
<div class="abs" style="left:881px;top:1154.10px;width:775.2px;height:31.35px;background:#e0e0df"></div>
<span class="t rb" style="left:889px;top:1165.7px">03 Oct 2023</span>
<span class="t rb" style="right:385.5px;top:1165.7px;color:#333">-$87,283.17</span>
<span class="t rb" style="right:234.5px;top:1165.7px;color:#333">$163.14</span>
<span class="t rb" style="right:60.5px;top:1165.7px;color:#f11d26">-$412,809.34</span>
<div class="abs" style="left:881px;top:1185.45px;width:775.2px;height:31.35px;background:#f2f2f1"></div>
<span class="t rb" style="left:889px;top:1197.0px">31 Oct 2023</span>
<span class="t rb" style="right:385.5px;top:1197.0px;color:#333">-$87,283.17</span>
<span class="t rb" style="right:234.5px;top:1197.0px;color:#333">$1,522.67</span>
<span class="t rb" style="right:60.5px;top:1197.0px;color:#f11d26">-$327,048.84</span>
<div class="abs" style="left:881px;top:1216.80px;width:775.2px;height:31.35px;background:#e0e0df"></div>
<span class="t rb" style="left:889px;top:1228.4px">30 Nov 2023</span>
<span class="t rb" style="right:385.5px;top:1228.4px;color:#333">-$87,283.17</span>
<span class="t rb" style="right:234.5px;top:1228.4px;color:#333">$1,631.44</span>
<span class="t rb" style="right:60.5px;top:1228.4px;color:#f11d26">-$241,397.11</span>
<div class="abs" style="left:881px;top:1248.15px;width:775.2px;height:31.35px;background:#f2f2f1"></div>
<span class="t rb" style="left:889px;top:1259.8px">31 Dec 2023</span>
<span class="t rb" style="right:234.5px;top:1259.8px;color:#333">$1,685.82</span>
<span class="t rb" style="right:60.5px;top:1259.8px;color:#f11d26">-$243,082.93</span>
<div class="abs" style="left:881px;top:1279.50px;width:775.2px;height:31.35px;background:#e0e0df"></div>
<span class="t rb" style="left:889px;top:1291.1px">02 Jan 2024</span>
<span class="t rb" style="right:385.5px;top:1291.1px;color:#333">-$87,283.17</span>
<span class="t rb" style="right:234.5px;top:1291.1px;color:#333">$108.76</span>
<span class="t rb" style="right:60.5px;top:1291.1px;color:#f11d26">-$155,908.52</span>
<div class="abs" style="left:881px;top:1310.85px;width:775.2px;height:31.35px;background:#f2f2f1"></div>
<span class="t rb" style="left:889px;top:1322.4px">31 Jan 2024</span>
<span class="t rb" style="right:385.5px;top:1322.4px;color:#333">-$87,283.17</span>
<span class="t rb" style="right:234.5px;top:1322.4px;color:#333">$1,577.06</span>
<span class="t rb" style="right:60.5px;top:1322.4px;color:#f11d26">-$70,202.41</span>
<div class="abs" style="left:881px;top:1342.20px;width:775.2px;height:3.80px;background:#e0e0df"></div>
<div class="abs" style="left:1168.5px;top:920.5px;width:1.5px;height:425.5px;background:#f4f4f4"></div>
<span class="t rh" style="left:889px;top:929.7px">Date</span>
<span class="t rh" style="right:547px;top:929.7px">Tranche Note</span>
<span class="t rh" style="right:547px;top:944.7px">Disbursement</span>
<span class="t rh" style="right:385.5px;top:929.7px">Tranche Note</span>
<span class="t rh" style="right:385.5px;top:944.7px">Payment</span>
<span class="t rh" style="right:234.5px;top:929.7px">Return</span>
<span class="t rh" style="right:234.5px;top:944.7px">Premium</span>
<span class="t rh" style="right:60.5px;top:929.7px">Net</span>
<span class="t rh" style="right:60.5px;top:944.7px">Exposure</span>
<div class="abs" style="left:0;top:1346px;width:1708px;height:4px;background:#fff"></div>
<!--PANELS_END-->
</body>
</html>
